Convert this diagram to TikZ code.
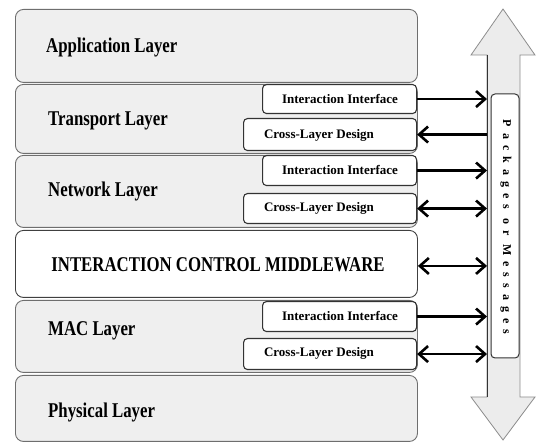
\documentclass[tikz,border=0pt]{standalone}
\usepackage{fontspec}
\setmainfont{Liberation Serif}
\usepackage{graphicx}
\usetikzlibrary{arrows.meta}
\definecolor{laygray}{HTML}{EFEFEF}
\definecolor{layline}{HTML}{6E6E6E}
\definecolor{bigfill}{HTML}{ECECEC}
\definecolor{bigline}{HTML}{8C8C8C}
\begin{document}
\begin{tikzpicture}[x=1pt,y=-1pt,
  layer/.style={draw=layline, fill=laygray, rounded corners=8pt, line width=0.9pt, inner sep=0pt, minimum width=402pt, anchor=north west},
  midlayer/.style={layer, fill=white, draw=black!75},
  laylabel/.style={font=\fontsize{21}{23}\selectfont\bfseries, anchor=west, inner sep=0pt},
  ibox/.style={draw=black!80, fill=white, rounded corners=4pt, line width=1.1pt, inner sep=0pt, anchor=north west},
  boxtext/.style={font=\fontsize{13}{15}\selectfont\bfseries, inner sep=0pt},
  tipst/.style={},
  arr/.style={line width=2.8pt, -{Straight Barb[length=9pt,width=16pt,line width=2.6pt]}},
  barr/.style={line width=2.8pt, {Straight Barb[length=9pt,width=16pt,line width=2.6pt]}-{Straight Barb[length=9pt,width=16pt,line width=2.6pt]}}
]
\useasboundingbox (0,0) rectangle (536,443);

% big vertical double arrow
\draw[fill=bigfill, draw=bigline, line width=0.8pt, line join=miter]
  (503,9) -- (535,55) -- (520,55) -- (520,397) -- (535,397) -- (503,440)
  -- (471,397) -- (487,397) -- (487,55) -- (471,55) -- cycle;
\coordinate (sh) at (487,0);
\draw[black!80, line width=1pt] (487,55) -- (487,397);

% layers
\node[layer, minimum height=73pt] (app) at (15,9) {};
\node[layer, minimum height=69pt] (trans) at (15,84) {};
\node[layer, minimum height=72pt] (net) at (15,155) {};
\node[midlayer, minimum height=67pt] (mid) at (15,230) {};
\node[layer, minimum height=72pt] (mac) at (15,300) {};
\node[layer, minimum height=66pt] (phy) at (15,375) {};

\node[laylabel] (appl) at (46,47) {\scalebox{0.8}[1]{Application Layer}};
\node[laylabel] (transl) at (48,121) {\scalebox{0.8}[1]{Transport Layer}};
\node[laylabel] (netl) at (48,191) {\scalebox{0.8}[1]{Network Layer}};
\node[font=\fontsize{21}{23}\selectfont\bfseries, inner sep=0pt] (midl) at (218,265) {\scalebox{0.8}[1]{INTERACTION CONTROL MIDDLEWARE}};
\node[laylabel] (macl) at (48,331) {\scalebox{0.8}[1]{MAC Layer}};
\node[laylabel] (phyl) at (48,412) {\scalebox{0.8}[1]{Physical Layer}};

% interface boxes
\node[ibox, minimum width=154pt, minimum height=29pt] (tII) at (262,84) {};
\node[boxtext] (tIIt) at (340,99) {Interaction Interface};
\node[ibox, minimum width=173pt, minimum height=32pt] (tCLD) at (243,118) {};
\node[boxtext] (tCLDt) at (319,135) {Cross-Layer Design};

\node[ibox, minimum width=154pt, minimum height=30pt] (nII) at (262,155) {};
\node[boxtext] (nIIt) at (340,170) {Interaction Interface};
\node[ibox, minimum width=173pt, minimum height=30pt] (nCLD) at (243,193) {};
\node[boxtext] (nCLDt) at (319,208) {Cross-Layer Design};

\node[ibox, minimum width=154pt, minimum height=30pt] (mII) at (262,301) {};
\node[boxtext] (mIIt) at (340,316) {Interaction Interface};
\node[ibox, minimum width=173pt, minimum height=31pt] (mCLD) at (243,338) {};
\node[boxtext] (mCLDt) at (319,353) {Cross-Layer Design};

% label box on the shaft
\node[draw=black!80, fill=white, rounded corners=4pt, line width=1pt, minimum width=28pt, minimum height=264pt, inner sep=0pt] (lab) at (505,226) {};
\node[rotate=-90, inner sep=0pt, font=\fontsize{12}{14}\selectfont\bfseries\addfontfeature{LetterSpace=50}] (labt) at (506,227) {Packages or Messages};

% connectors
\draw[arr] (tII.east) -- (tII.east -| sh);
\draw[arr] (tCLD.east -| sh) -- (tCLD.east);
\draw[arr] (nII.east) -- (nII.east -| sh);
\draw[barr] (nCLD.east) -- (nCLD.east -| sh);
\draw[barr] ([yshift=-2pt]mid.east) -- ([yshift=-2pt]mid.east -| sh);
\draw[arr] (mII.east) -- (mII.east -| sh);
\draw[barr] (mCLD.east) -- (mCLD.east -| sh);
\end{tikzpicture}
\end{document}
